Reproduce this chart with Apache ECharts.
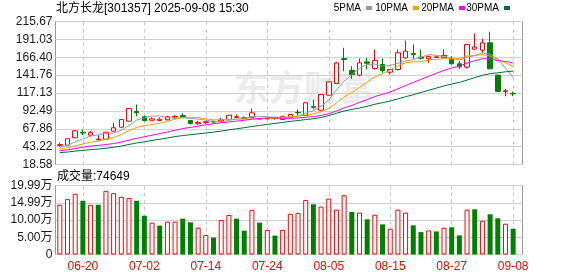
<!DOCTYPE html>
<html>
<head>
<meta charset="utf-8">
<script src="https://cdn.jsdelivr.net/npm/echarts@6/dist/echarts.min.js"></script>
<style>
  html, body { margin: 0; padding: 0; background: #fff; }
  #chart { width: 578px; height: 276px; }
</style>
</head>
<body>
<div id="chart"></div>
<script>
// 交易日
const dates = ['06-17','06-18','06-19','06-20','06-23','06-24','06-25','06-26','06-27','06-30',
  '07-01','07-02','07-03','07-04','07-07','07-08','07-09','07-10','07-11','07-14',
  '07-15','07-16','07-17','07-18','07-21','07-22','07-23','07-24','07-25','07-28',
  '07-29','07-30','07-31','08-01','08-04','08-05','08-06','08-07','08-08','08-11',
  '08-12','08-13','08-14','08-15','08-18','08-19','08-20','08-21','08-22','08-25',
  '08-26','08-27','08-28','08-29','09-01','09-02','09-03','09-04','09-05','09-08']

const opens = [45, 45.2, 55.4, 63, 59, 52.5, 53.5, 64.5, 70, 78.3,
  91.5, 84.3, 79.6, 79.2, 80.2, 84, 86, 79.2, 74.7, 76.5,
  78, 78.5, 80.6, 83.5, 82, 83.8, 81, 81.5, 82.5, 80.5,
  83.5, 90.5, 86.1, 98.5, 93.4, 114.1, 130.2, 164.5, 148.1, 141.7,
  160, 150.9, 156.4, 145.8, 149.5, 165.6, 171.5, 166.5, 164.3, 166,
  165.6, 164.3, 157.4, 152.7, 177.5, 176.1, 186.3, 141.7, 119.2, 116.5]
const closes = [46, 54, 65, 62, 62.5, 53.5, 63.1, 69.2, 80.6, 95.8,
  90, 79, 81.5, 81, 84.3, 85, 84.5, 75.1, 76.5, 77.5,
  77, 80, 86.5, 84.5, 83, 89.8, 81.5, 82.5, 81.8, 85,
  87.5, 89.8, 103.6, 97.5, 115.1, 132.6, 158.7, 163.3, 142.6, 158.7,
  158.2, 161.9, 148.1, 149.5, 172.5, 174.7, 170.2, 165, 167.4, 167,
  168.8, 157.4, 153.2, 184, 180.5, 186.3, 150.5, 119.3, 120.2, 116]
const lows = [43, 44.5, 55, 59, 57, 52, 52.5, 64, 68.6, 78,
  85.1, 78, 79.6, 78.2, 79.5, 81.5, 83, 73.7, 73.3, 74.7,
  76, 76, 80, 82.5, 81, 83.5, 80.5, 80.5, 80.5, 80,
  83, 86.1, 85.5, 94.4, 93, 113.5, 129.5, 147.2, 136.7, 140,
  149.5, 149.5, 145, 142.6, 148, 164.5, 164.3, 163.3, 158.7, 165.5,
  165, 156.4, 150.5, 150.9, 177, 172, 150, 119, 112.7, 112.7]
const highs = [48.5, 54.5, 65.5, 66.8, 64.5, 59, 63.5, 76, 81, 96.5,
  101.3, 86, 83.4, 83.4, 85.5, 86.5, 88.9, 80, 79, 78.3,
  79, 83, 87, 87.5, 85, 95.8, 82.5, 83.5, 83, 86,
  88.5, 94.4, 104, 108.2, 115.5, 133, 159.5, 179.4, 154, 164.7,
  165.6, 177.1, 164.7, 150.5, 177.1, 189.5, 183.9, 177.1, 168.8, 168,
  177.1, 167.9, 161, 185, 199, 191.8, 201.5, 142.6, 122.9, 119.2]

// 成交量(手)
const volumes = [144200, 160500, 175900, 155700, 144200, 144200, 184500, 177800, 167200, 163400,
  155700, 112400, 92300, 83600, 95100, 95100, 103800, 93200, 77800, 56700,
  49000, 99900, 114400, 103800, 69200, 128800, 92300, 71100, 54800, 71100,
  117800, 120700, 158100, 145500, 138700, 162000, 130000, 171700, 123200, 121300,
  101900, 115400, 87300, 74700, 130000, 121300, 84400, 65000, 69800, 66900,
  77600, 78600, 55300, 130000, 131000, 98000, 116400, 104800, 89200, 74649]

const ma5 = [42.0, 44.8, 49.7, 53.8, 57.9, 59.4, 61.2, 62.1, 65.8, 72.4,
  79.7, 82.9, 85.4, 85.5, 83.2, 82.2, 83.3, 82.0, 81.1, 79.7,
  78.1, 77.2, 79.5, 81.1, 82.2, 84.8, 85.1, 84.3, 83.7, 84.1,
  83.7, 85.3, 89.5, 92.7, 98.7, 107.7, 121.5, 133.4, 142.5, 151.2,
  156.3, 156.9, 153.9, 155.3, 158.0, 161.3, 163.0, 166.4, 170.0, 168.9,
  167.7, 165.1, 162.8, 166.1, 168.8, 172.3, 170.9, 164.1, 151.4, 138.5]
const ma10 = [39.8, 41.6, 44.4, 46.8, 49.3, 50.7, 53.0, 55.9, 59.8, 65.2,
  69.6, 72.1, 73.7, 75.6, 77.8, 81.0, 83.1, 83.7, 83.3, 81.4,
  80.1, 80.2, 80.7, 81.1, 81.0, 81.4, 81.1, 81.9, 82.4, 83.2,
  84.2, 85.2, 86.9, 88.2, 91.4, 95.7, 103.4, 111.5, 117.6, 124.9,
  132.0, 139.2, 143.7, 148.9, 154.6, 158.8, 160.0, 160.1, 162.6, 163.5,
  164.5, 164.1, 164.6, 168.0, 168.8, 170.0, 168.0, 163.4, 158.7, 153.6]
const ma20 = [37.5, 38.8, 40.6, 42.3, 43.9, 45.0, 46.1, 47.5, 49.5, 52.2,
  54.7, 56.8, 59.0, 61.2, 63.5, 65.8, 68.1, 69.8, 71.5, 73.3,
  74.9, 76.2, 77.2, 78.4, 79.4, 81.2, 82.1, 82.8, 82.8, 82.3,
  82.2, 82.7, 83.8, 84.6, 86.2, 88.6, 92.3, 96.7, 100.0, 104.1,
  108.1, 112.2, 115.3, 118.5, 123.0, 127.3, 131.7, 135.8, 140.1, 144.2,
  148.3, 151.6, 154.1, 158.4, 161.7, 164.4, 164.0, 161.8, 160.7, 158.5]
const ma30 = [35.0, 35.8, 37.0, 38.0, 39.1, 39.9, 41.0, 42.3, 44.0, 46.2,
  48.2, 49.9, 51.7, 53.4, 55.2, 57.0, 58.5, 59.6, 60.8, 62.0,
  63.2, 64.6, 66.3, 67.8, 69.3, 71.0, 72.4, 73.8, 75.2, 76.6,
  78.0, 79.2, 80.5, 81.6, 83.4, 86.0, 89.2, 92.4, 94.4, 96.5,
  98.8, 101.6, 103.8, 106.1, 109.0, 112.0, 114.8, 117.8, 120.9, 123.9,
  126.9, 129.5, 131.7, 135.0, 138.3, 141.5, 143.8, 145.0, 146.3, 147.3]

const priceTicks = ['18.58', '43.22', '67.86', '92.49', '117.13', '141.76', '166.40', '191.03', '215.67']
const volTicks = ['0', '5.00万', '10.00万', '14.99万', '19.99万']
const volTop = 199900

const priceMin = Number(priceTicks[0])
const priceMax = Number(priceTicks[priceTicks.length - 1])
const priceStep = (priceMax - priceMin) / (priceTicks.length - 1)
const volStep = volTop / (volTicks.length - 1)

const RED = '#ff0000'
const GREEN = '#008000'
const FONT = '"Liberation Sans", "Noto Sans CJK SC", sans-serif'

const kData = opens.map((o, i) => [o, closes[i], lows[i], highs[i]])
const volData = volumes.map((v, i) => {
  const prev = i > 0 ? closes[i - 1] : opens[i]
  const up = closes[i] >= prev
  return {
    value: v,
    itemStyle: up ? {color: '#fff', borderColor: RED, borderWidth: 1} : {color: GREEN}
  }
})

const tickAt = (i) => (i - 3) % 8 === 0
const dashLine = {show: true, alignWithLabel: true, interval: tickAt, lineStyle: {color: '#cccccc', type: [4, 3], width: 1}}

// right: 图例色块右边缘到画布右边的距离
const maList = [
  {name: '5PMA', data: ma5, color: '#9a9a9a', right: 206},
  {name: '10PMA', data: ma10, color: '#f0a000', right: 159},
  {name: '20PMA', data: ma20, color: '#ff00ff', right: 113},
  {name: '30PMA', data: ma30, color: '#006f3a', right: 68}
]

const chart = echarts.init(document.getElementById('chart'))

const option = {
  animation: false,
  title: [
    {
      text: '北方长龙[301357] 2025-09-08 15:30',
      left: 56, top: 3, padding: 0,
      textStyle: {fontSize: 12, fontWeight: 'normal', color: '#000', fontFamily: FONT}
    },
    {
      text: '成交量:' + volumes[volumes.length - 1],
      left: 57, top: 171, padding: 0,
      textStyle: {fontSize: 12, fontWeight: 'normal', color: '#000', fontFamily: FONT}
    }
  ],
  legend: maList.map(m => ({
    data: [m.name],
    right: m.right, top: 3, padding: 0,
    align: 'right',
    icon: 'rect',
    itemWidth: 6, itemHeight: 4,
    selectedMode: false,
    textStyle: {fontSize: 10, color: '#000', fontFamily: '"Liberation Sans", sans-serif'}
  })),
  graphic: [
    {
      type: 'text', left: 234, top: 70, z: 0, silent: true,
      style: {text: '东方财富', fill: '#ebebeb', font: 'bold 35px "Noto Sans CJK SC"'}
    }
  ],
  grid: [
    {left: 56, top: 21.5, width: 461, height: 143, show: false},
    {left: 55.5, top: 21.5, width: 467, height: 143, show: true, borderColor: '#999', borderWidth: 1},
    {left: 56, top: 185.5, width: 461, height: 69, show: false},
    {left: 55.5, top: 185.5, width: 467, height: 69, show: true, borderColor: '#999', borderWidth: 1}
  ],
  xAxis: [
    {
      gridIndex: 0, type: 'category', data: dates, boundaryGap: true,
      axisLine: {show: false}, axisTick: {show: false}, axisLabel: {show: false},
      splitLine: dashLine
    },
    {gridIndex: 1, type: 'value', min: 0, max: 1, show: false},
    {
      gridIndex: 2, type: 'category', data: dates, boundaryGap: true,
      axisLine: {show: false}, axisTick: {show: false},
      axisLabel: {interval: tickAt, color: RED, fontSize: 12, margin: 6, fontFamily: FONT},
      splitLine: dashLine
    },
    {gridIndex: 3, type: 'value', min: 0, max: 1, show: false}
  ],
  yAxis: [
    {gridIndex: 0, type: 'value', min: priceMin, max: priceMax, show: false},
    {
      gridIndex: 1, type: 'value', min: priceMin, max: priceMax, interval: priceStep,
      axisLine: {show: false}, axisTick: {show: false},
      splitLine: {lineStyle: {color: '#d2d2d2', width: 1}},
      axisLabel: {
        margin: 3, fontSize: 12, color: '#1a1a1a', fontFamily: FONT,
        formatter: v => priceTicks[Math.round((v - priceMin) / priceStep)]
      }
    },
    {gridIndex: 2, type: 'value', min: 0, max: volTop, show: false},
    {
      gridIndex: 3, type: 'value', min: 0, max: volTop, interval: volStep,
      axisLine: {show: false}, axisTick: {show: false},
      splitLine: {lineStyle: {color: '#d2d2d2', width: 1}},
      axisLabel: {
        margin: 3, fontSize: 12, color: '#1a1a1a', fontFamily: FONT,
        formatter: v => volTicks[Math.round(v / volStep)]
      }
    }
  ],
  series: [
    {
      type: 'candlestick', xAxisIndex: 0, yAxisIndex: 0,
      data: kData, barWidth: 5,
      itemStyle: {color: '#fff', color0: GREEN, borderColor: RED, borderColor0: GREEN, borderWidth: 1}
    },
    ...maList.map(m => ({
      type: 'line', name: m.name, data: m.data,
      xAxisIndex: 0, yAxisIndex: 0,
      symbol: 'none', showSymbol: false, z: 3,
      lineStyle: {width: 1, color: m.color},
      itemStyle: {color: m.color}
    })),
    {
      type: 'bar', xAxisIndex: 2, yAxisIndex: 2,
      data: volData, barWidth: 5
    }
  ]
}

chart.setOption(option)
</script>
</body>
</html>
